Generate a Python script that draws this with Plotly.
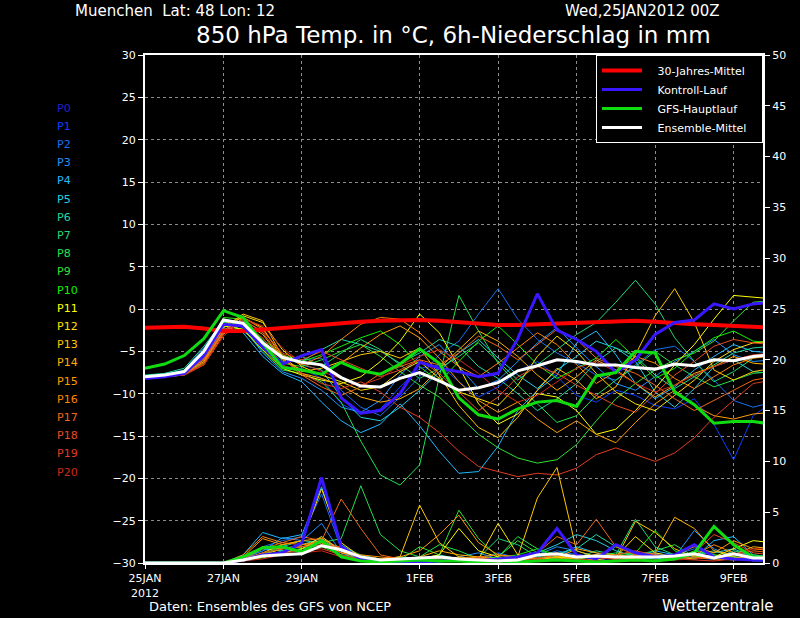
import pandas as pd
import plotly.graph_objects as go

# ---------------- data (12-hourly, 25JAN2012 00Z .. 10FEB 00Z) ----------------
TIMES = pd.date_range("2012-01-25 00:00", periods=33, freq="12h")

CLIMATE = [-2.2, -2.2, -2.1, -2.3, -2.6, -2.6, -2.4, -2.2, -2.0, -1.8, -1.6, -1.5, -1.4, -1.3, -1.3, -1.4,
           -1.6, -1.7, -1.9, -1.9, -1.8, -1.7, -1.6, -1.6, -1.4, -1.4, -1.5, -1.7, -1.8, -1.9, -2.0, -2.1, -2.2]

CONTROL_T = [-8.2, -8.0, -7.6, -5.5, -1.8, -2.0, -4.5, -6.5, -5.5, -4.8, -10.5, -12.3, -12.0, -10.0, -6.3, -7.0,
             -7.4, -8.0, -7.6, -3.5, 1.8, -2.5, -3.6, -5.0, -7.5, -6.0, -3.0, -1.6, -1.3, 0.6, 0.0, 0.6, 0.8]
MAIN_T = [-7.0, -6.5, -5.5, -3.5, -0.2, -1.0, -4.0, -6.9, -7.2, -7.7, -6.3, -7.3, -7.7, -6.5, -4.7, -6.4,
          -10.5, -12.5, -13.0, -11.8, -11.0, -10.8, -11.5, -7.9, -7.5, -5.0, -5.2, -9.8, -11.3, -13.5, -13.3, -13.3, -13.6]
MEAN_T = [-8.0, -7.8, -7.4, -5.0, -1.3, -1.7, -4.0, -5.7, -6.3, -6.6, -8.1, -9.1, -9.2, -8.2, -7.5, -8.5,
          -9.6, -9.3, -8.7, -7.3, -6.7, -6.0, -6.2, -6.6, -6.6, -6.9, -7.1, -6.5, -6.7, -6.0, -6.1, -5.6, -5.4]

CONTROL_P = [0, 0, 0, 0, 0, 0.3, 0.8, 1.0, 2.0, 8.4, 1.6, 0.4, 0.2, 0.1, 0.1, 0.2, 0.3, 0.2, 0.4, 0.6, 1.0,
             3.4, 0.8, 0.4, 1.8, 1.0, 0.6, 0.8, 1.8, 0.6, 0.4, 0.3, 0.3]
MAIN_P = [0, 0, 0, 0, 0, 0.6, 1.5, 1.6, 1.1, 2.2, 0.6, 0.2, 0.1, 0.2, 0.3, 0.2, 0.2, 0.1, 0.2, 0.1, 0.2,
          0.3, 0.2, 0.1, 0.2, 0.3, 0.2, 0.4, 1.0, 3.6, 1.8, 0.6, 0.4]
MEAN_P = [0, 0, 0, 0, 0, 0.3, 0.7, 0.8, 0.9, 1.7, 1.3, 0.6, 0.3, 0.4, 0.5, 0.6, 0.4, 0.3, 0.2, 0.3, 0.8,
          0.9, 0.6, 0.7, 0.6, 0.6, 0.6, 0.7, 0.9, 0.5, 0.9, 0.5, 0.5]

MEMBER_NAMES = ["P%d" % i for i in range(1, 21)]
MEMBER_COLORS = ["#0a40ff", "#1670f0", "#1e90ff", "#20b8ff", "#20d0e0", "#20d8a0", "#20d878", "#20e050",
                 "#30e030", "#10f000", "#ffff00", "#ffe000", "#ffc800", "#ffb000", "#ff9c00", "#ff8400",
                 "#f06818", "#e84c20", "#e03c20", "#d02818"]

MEMBER_T = [
    [-8.2, -8.0, -7.7, -5.8, -1.8, -2.0, -4.6, -6.8, -7.0, -8.2, -11.2, -12.4, -11.8, -9.2, -7.0, -6.6, -8.6, -10.4, -9.2, -7.4, -6.2, -8.0, -10.2, -11.0, -9.6, -10.2, -11.4, -11.8, -10.6, -13.6, -17.8, -12.6, -11.0],
    [-8.0, -7.8, -7.5, -5.0, -1.2, -1.6, -4.2, -6.2, -6.0, -5.8, -9.6, -11.6, -12.6, -10.4, -8.0, -5.4, -3.8, -0.6, 2.4, -1.2, -3.6, -5.2, -6.4, -7.8, -8.4, -6.6, -4.8, -4.4, -6.2, -8.4, -10.8, -11.6, -11.0],
    [-7.9, -7.7, -7.2, -4.6, -1.4, -2.2, -5.2, -7.4, -8.2, -9.6, -11.6, -12.2, -10.8, -7.8, -5.6, -4.2, -6.8, -9.4, -8.4, -6.2, -4.0, -2.2, -4.6, -6.8, -8.8, -9.6, -8.0, -6.2, -5.0, -3.6, -5.4, -6.2, -6.0],
    [-8.1, -7.9, -7.6, -5.8, -2.2, -2.8, -5.6, -7.6, -8.6, -11.0, -13.2, -14.6, -13.6, -11.2, -13.8, -16.8, -19.4, -19.2, -16.2, -12.0, -9.6, -7.8, -4.0, -2.6, -5.4, -8.8, -10.6, -9.2, -7.2, -5.6, -4.2, -5.0, -5.2],
    [-8.0, -7.8, -7.4, -5.4, -1.6, -1.4, -3.8, -5.6, -6.6, -7.2, -10.4, -12.8, -13.2, -11.6, -9.6, -7.4, -5.2, -3.6, -5.8, -7.8, -9.4, -7.2, -5.6, -3.8, -4.6, -6.2, -9.8, -11.6, -9.4, -6.8, -6.0, -7.4, -7.6],
    [-7.8, -7.6, -7.0, -4.4, -1.4, -2.6, -4.4, -5.8, -6.2, -4.8, -3.6, -4.2, -5.0, -6.4, -5.2, -3.6, -4.4, -6.8, -8.2, -10.0, -12.0, -10.6, -8.8, -6.2, -4.6, -5.6, -7.8, -9.4, -8.0, -6.6, -5.2, -4.6, -4.4],
    [-8.2, -8.0, -7.8, -6.2, -2.4, -2.0, -4.0, -6.0, -5.6, -6.8, -5.2, -3.6, -4.8, -6.6, -8.2, -7.0, -5.6, -4.0, -6.2, -8.4, -6.6, -4.8, -3.0, -1.6, 0.8, 3.4, 0.6, -3.4, -6.2, -8.6, -7.4, -5.8, -5.4],
    [-8.0, -7.9, -7.6, -5.6, -2.0, -2.4, -5.0, -7.2, -7.6, -8.6, -11.0, -15.6, -19.6, -20.8, -18.4, -8.0, 1.6, -2.6, -6.4, -9.0, -11.2, -13.4, -12.6, -10.2, -8.4, -6.8, -5.0, -6.6, -8.0, -9.2, -8.4, -7.6, -7.4],
    [-7.9, -7.7, -7.3, -5.0, -1.6, -1.8, -4.4, -6.4, -6.8, -6.0, -5.0, -4.2, -5.6, -7.4, -9.0, -10.4, -12.6, -14.8, -16.4, -17.6, -18.2, -17.8, -16.0, -13.2, -10.6, -8.8, -7.2, -6.0, -5.2, -3.8, -1.4, 0.8, 1.0],
    [-8.1, -7.9, -7.5, -5.2, -1.0, -1.2, -3.6, -5.4, -6.2, -5.4, -4.4, -3.4, -2.6, -4.2, -6.8, -8.6, -6.2, -3.8, -2.0, -4.2, -6.6, -8.2, -7.0, -5.8, -3.6, -5.8, -8.2, -7.0, -5.0, -3.4, -2.6, -3.8, -4.0],
    [-8.0, -7.8, -7.3, -5.6, -2.0, -2.4, -4.8, -7.0, -7.8, -8.4, -8.8, -8.0, -6.2, -3.8, -0.6, -2.8, -6.8, -11.2, -13.6, -12.4, -10.0, -10.4, -12.0, -14.8, -14.2, -12.0, -9.4, -6.6, -4.2, -1.2, 1.6, 1.4, 1.2],
    [-8.2, -8.0, -7.7, -6.4, -2.6, -0.8, -1.6, -4.8, -6.8, -7.8, -8.6, -9.6, -9.2, -7.4, -6.2, -8.2, -9.8, -10.6, -11.4, -9.0, -5.6, -3.2, -5.0, -7.6, -9.8, -11.2, -12.0, -10.2, -8.4, -6.2, -4.8, -4.0, -3.8],
    [-8.0, -7.8, -7.6, -6.0, -2.2, -0.6, -1.4, -5.6, -7.4, -7.0, -6.2, -5.4, -5.0, -5.8, -4.6, -7.8, -11.4, -14.0, -15.2, -12.8, -9.6, -7.0, -8.4, -10.6, -9.2, -5.4, -0.8, 2.4, -1.6, -7.2, -8.4, -7.4, -7.0],
    [-8.1, -7.9, -7.5, -5.4, -1.8, -1.0, -2.2, -5.8, -7.6, -8.2, -9.0, -10.4, -11.0, -10.6, -9.4, -7.0, -4.8, -2.6, -3.8, -5.6, -7.8, -9.6, -8.0, -6.0, -7.2, -8.8, -10.4, -9.0, -7.6, -6.8, -5.6, -6.4, -6.6],
    [-8.0, -7.8, -7.6, -6.2, -2.8, -1.6, -3.0, -6.0, -7.2, -7.8, -6.4, -4.6, -3.0, -2.0, -3.4, -5.8, -8.6, -10.8, -12.2, -11.0, -13.0, -14.6, -13.2, -14.8, -15.8, -13.4, -11.2, -9.6, -11.4, -12.6, -13.0, -12.4, -12.2],
    [-8.2, -8.0, -7.8, -6.6, -3.0, -1.0, -2.4, -5.4, -6.6, -5.6, -3.6, -1.8, -1.0, -1.2, -2.8, -5.0, -6.8, -8.0, -6.4, -4.6, -2.8, -4.2, -6.6, -8.8, -7.4, -5.6, -6.4, -8.2, -9.4, -8.0, -6.6, -5.8, -5.6],
    [-8.0, -7.8, -7.6, -6.0, -2.6, -1.2, -2.8, -5.8, -7.8, -9.2, -10.2, -9.2, -7.6, -6.8, -6.0, -6.6, -5.2, -3.2, -4.4, -6.0, -4.2, -2.4, -3.6, -5.8, -6.8, -7.6, -9.0, -10.6, -12.0, -10.8, -9.6, -8.4, -8.0],
    [-8.1, -7.9, -7.7, -6.4, -2.8, -1.4, -2.6, -5.2, -6.0, -5.0, -6.0, -7.0, -8.0, -7.2, -6.0, -7.6, -9.8, -12.0, -10.4, -8.0, -6.8, -7.6, -9.0, -10.2, -11.4, -12.2, -10.0, -7.8, -6.2, -4.4, -3.6, -4.0, -4.2],
    [-8.0, -7.8, -7.5, -5.8, -2.4, -1.8, -3.4, -6.6, -7.6, -8.8, -9.4, -8.6, -9.8, -11.6, -12.8, -14.6, -16.8, -18.6, -19.2, -19.8, -19.4, -19.6, -18.8, -17.2, -16.4, -17.2, -18.0, -17.0, -15.2, -12.8, -10.8, -8.8, -8.4],
    [-8.2, -8.0, -7.8, -6.6, -3.2, -1.2, -2.0, -4.6, -6.4, -7.4, -8.2, -9.0, -8.2, -6.6, -5.6, -4.8, -6.0, -7.6, -9.6, -11.0, -10.2, -8.6, -7.0, -6.2, -7.4, -8.8, -9.8, -9.0, -7.8, -6.8, -6.0, -5.4, -5.2],
]

MEMBER_P = [
    [0, 0, 0, 0, 0, 0.4, 1.2, 1.8, 1.0, 2.2, 0.8, 0.3, 0.2, 0.1, 0, 0.2, 0.4, 0.6, 0.3, 0.2, 0.5, 0.8, 0.3, 0.4, 0.2, 0.6, 0.9, 0.4, 0.6, 0.3, 1.2, 0.6, 0.5],
    [0, 0, 0, 0, 0, 0.6, 1.6, 2.2, 2.6, 6.8, 1.4, 0.4, 0.2, 0.1, 0.2, 0.3, 0.2, 0.4, 1.0, 0.5, 0.6, 1.2, 0.8, 0.5, 0.4, 0.3, 0.6, 0.8, 1.4, 0.7, 0.5, 0.3, 0.3],
    [0, 0, 0, 0, 0, 0.5, 1.2, 2.5, 2.2, 3.9, 1.0, 0.3, 0.2, 0.2, 0.1, 0.2, 0.6, 1.0, 0.4, 0.3, 0.8, 1.6, 1.2, 0.6, 0.5, 0.8, 1.0, 0.6, 3.2, 1.4, 0.6, 0.2, 0.2],
    [0, 0, 0, 0, 0, 0.8, 3.0, 2.4, 2.8, 7.5, 1.8, 0.6, 0.2, 0.1, 0.3, 0.1, 0.4, 0.2, 0.3, 0.6, 0.4, 0.8, 1.6, 1.0, 0.4, 0.6, 1.2, 0.8, 0.5, 2.2, 2.6, 0.8, 0.6],
    [0, 0, 0, 0, 0, 0.4, 1.4, 1.2, 1.8, 2.4, 1.2, 0.4, 0.3, 0.2, 0.2, 0.4, 0.2, 0.3, 0.5, 0.4, 1.0, 1.8, 2.8, 2.2, 1.2, 0.6, 0.4, 0.6, 0.8, 1.0, 1.4, 0.6, 0.5],
    [0, 0, 0, 0, 0, 0.2, 0.8, 1.6, 2.2, 2.0, 0.8, 0.5, 0.3, 0.6, 0.4, 0.8, 0.4, 0.3, 0.2, 0.4, 0.6, 0.9, 1.4, 2.8, 1.6, 1.0, 0.6, 0.4, 0.8, 1.2, 0.6, 0.4, 0.4],
    [0, 0, 0, 0, 0, 0.2, 0.6, 1.2, 1.4, 1.8, 1.6, 0.8, 0.4, 0.2, 0.3, 0.4, 0.2, 0.5, 2.4, 1.8, 0.6, 0.4, 0.5, 1.2, 0.8, 4.3, 1.6, 0.8, 0.4, 0.6, 0.8, 0.5, 0.4],
    [0, 0, 0, 0, 0, 0.3, 0.8, 1.4, 1.6, 2.0, 2.4, 7.6, 2.8, 1.2, 0.6, 1.8, 1.2, 0.4, 0.6, 2.6, 1.4, 0.5, 0.8, 0.6, 1.0, 0.8, 1.2, 1.8, 0.6, 0.4, 1.2, 0.8, 0.6],
    [0, 0, 0, 0, 0, 0.2, 0.5, 1.0, 1.4, 2.2, 1.2, 0.6, 0.4, 0.3, 1.6, 0.8, 5.2, 2.4, 0.6, 2.2, 1.0, 0.6, 0.4, 0.6, 0.8, 1.0, 0.6, 0.4, 1.2, 0.8, 0.6, 0.4, 0.4],
    [0, 0, 0, 0, 0, 0.3, 0.9, 1.6, 1.2, 1.6, 0.8, 0.4, 0.3, 0.4, 0.2, 0.3, 0.4, 0.3, 0.5, 0.8, 1.4, 0.8, 0.6, 0.4, 1.6, 1.0, 3.2, 1.2, 0.6, 0.8, 0.4, 0.3, 0.3],
    [0, 0, 0, 0, 0, 0.2, 0.6, 1.0, 1.4, 2.6, 1.2, 0.5, 0.3, 0.2, 0.4, 0.8, 3.4, 1.2, 0.6, 0.4, 0.3, 0.6, 0.5, 0.8, 0.6, 0.4, 0.8, 0.6, 0.4, 0.6, 1.4, 2.2, 2.0],
    [0, 0, 0, 0, 0, 0.4, 1.0, 1.8, 2.2, 7.3, 2.0, 0.6, 0.3, 0.2, 0.3, 0.6, 0.5, 0.4, 3.9, 0.8, 0.4, 0.6, 0.4, 0.3, 0.6, 2.6, 1.0, 0.6, 0.8, 0.5, 0.6, 0.4, 0.4],
    [0, 0, 0, 0, 0, 0.3, 0.8, 1.4, 1.6, 2.0, 1.0, 0.6, 0.4, 0.6, 5.7, 2.0, 0.6, 0.4, 0.3, 0.6, 6.4, 9.4, 1.2, 0.6, 0.4, 4.1, 3.0, 1.4, 0.6, 0.4, 0.3, 0.5, 0.5],
    [0, 0, 0, 0, 0, 0.5, 1.6, 1.4, 1.8, 2.2, 1.2, 0.4, 0.3, 0.2, 0.6, 1.2, 0.8, 0.6, 0.4, 0.6, 0.8, 0.5, 1.4, 1.0, 0.8, 0.6, 1.0, 4.5, 3.4, 1.2, 0.8, 1.6, 1.4],
    [0, 0, 0, 0, 0, 0.6, 2.4, 1.8, 2.2, 2.4, 1.4, 0.6, 0.4, 0.6, 1.2, 2.8, 4.7, 2.0, 0.8, 0.6, 0.4, 0.6, 0.8, 0.6, 0.4, 0.8, 0.6, 0.8, 1.6, 1.0, 2.2, 1.4, 1.2],
    [0, 0, 0, 0, 0, 0.8, 2.6, 2.0, 1.8, 2.0, 1.0, 0.8, 0.6, 0.4, 0.3, 0.5, 0.4, 0.6, 0.8, 0.5, 0.3, 0.4, 0.6, 0.8, 0.5, 0.4, 0.6, 0.5, 0.8, 1.8, 1.0, 0.6, 0.6],
    [0, 0, 0, 0, 0, 0.4, 1.4, 2.0, 2.6, 2.2, 6.3, 3.4, 0.8, 0.4, 0.2, 0.3, 0.5, 0.4, 0.3, 0.5, 1.0, 2.6, 1.8, 4.3, 1.6, 0.8, 0.6, 0.4, 0.6, 0.4, 0.8, 1.2, 1.0],
    [0, 0, 0, 0, 0, 0.3, 1.0, 1.4, 1.6, 1.8, 1.6, 0.6, 0.4, 0.3, 0.4, 0.6, 0.3, 0.5, 0.4, 0.6, 0.5, 0.8, 0.6, 0.5, 0.8, 1.2, 0.8, 0.6, 1.0, 2.8, 2.0, 1.0, 0.8],
    [0, 0, 0, 0, 0, 0.2, 0.6, 1.0, 1.2, 1.4, 0.8, 0.4, 0.2, 0.1, 0.2, 0.3, 0.2, 0.1, 0.2, 0.3, 0.2, 0.3, 0.4, 0.2, 0.3, 0.2, 0.3, 0.4, 0.3, 0.2, 0.4, 0.6, 0.6],
    [0, 0, 0, 0, 0, 0.2, 0.4, 0.8, 1.0, 1.2, 0.6, 0.3, 0.2, 0.2, 0.1, 0.2, 0.3, 0.2, 0.3, 0.2, 0.4, 0.3, 0.2, 0.5, 0.4, 0.3, 0.2, 0.3, 0.4, 0.6, 0.8, 1.4, 1.4],
]

LABEL_NAMES = ["P%d" % i for i in range(0, 21)]
LABEL_COLORS = ["#2020cc"] + MEMBER_COLORS

LEGEND_NAMES = ["30-Jahres-Mittel", "Kontroll-Lauf", "GFS-Hauptlauf", "Ensemble-Mittel"]

DATE_TICKS = ["2012-01-25", "2012-01-27", "2012-01-29", "2012-02-01", "2012-02-03",
              "2012-02-05", "2012-02-07", "2012-02-09"]
DATE_LABELS = ["25JAN<br>2012", "27JAN", "29JAN", "1FEB", "3FEB", "5FEB", "7FEB", "9FEB"]
TEMP_TICKS = list(range(-30, 31, 5))
PREC_TICKS = list(range(0, 51, 5))

FONT = "DejaVu Sans"
PAD = "\u00a0\u00a0\u00a0"

# ---------------- figure ----------------
fig = go.Figure()

for name, col, tv, pv in zip(MEMBER_NAMES, MEMBER_COLORS, MEMBER_T, MEMBER_P):
    fig.add_trace(go.Scatter(x=TIMES, y=pv, yaxis="y2", mode="lines",
                             line=dict(color=col, width=1), showlegend=False, hoverinfo="skip"))
    fig.add_trace(go.Scatter(x=TIMES, y=tv, mode="lines",
                             line=dict(color=col, width=1), showlegend=False, hoverinfo="skip"))

fig.add_trace(go.Scatter(x=TIMES, y=CONTROL_P, yaxis="y2", mode="lines",
                         line=dict(color="#3a18ff", width=3), showlegend=False))
fig.add_trace(go.Scatter(x=TIMES, y=MAIN_P, yaxis="y2", mode="lines",
                         line=dict(color="#10dd10", width=3), showlegend=False))
fig.add_trace(go.Scatter(x=TIMES, y=MEAN_P, yaxis="y2", mode="lines",
                         line=dict(color="#ffffff", width=3), showlegend=False))

fig.add_trace(go.Scatter(x=TIMES, y=CLIMATE, mode="lines", name=PAD + LEGEND_NAMES[0] + PAD,
                         line=dict(color="#ff0000", width=4)))
fig.add_trace(go.Scatter(x=TIMES, y=CONTROL_T, mode="lines", name=PAD + LEGEND_NAMES[1] + PAD,
                         line=dict(color="#3a18ff", width=3)))
fig.add_trace(go.Scatter(x=TIMES, y=MAIN_T, mode="lines", name=PAD + LEGEND_NAMES[2] + PAD,
                         line=dict(color="#10dd10", width=3)))
fig.add_trace(go.Scatter(x=TIMES, y=MEAN_T, mode="lines", name=PAD + LEGEND_NAMES[3] + PAD,
                         line=dict(color="#ffffff", width=3)))

annotations = []
for i, (lab, col) in enumerate(zip(LABEL_NAMES, LABEL_COLORS)):
    annotations.append(dict(text=lab, xref="paper", yref="paper", x=(55 - 145) / 618,
                            y=(563 - 108 - i * 18.2) / 508,
                            xanchor="left", yanchor="middle", showarrow=False,
                            font=dict(family=FONT, size=11, color=col)))

annotations += [
    dict(text="Muenchen  Lat: 48 Lon: 12", xref="paper", yref="paper", x=(73 - 145) / 618, y=(563 - 11) / 508,
         xanchor="left", yanchor="middle", showarrow=False, font=dict(family=FONT, size=15, color="white")),
    dict(text="Wed,25JAN2012 00Z", xref="paper", yref="paper", x=(722 - 145) / 618, y=(563 - 11) / 508,
         xanchor="right", yanchor="middle", showarrow=False, font=dict(family=FONT, size=15, color="white")),
    dict(text="850 hPa Temp. in °C, 6h-Niederschlag in mm", xref="paper", yref="paper",
         x=(453 - 145) / 618, y=(563 - 35) / 508, xanchor="center", yanchor="middle", showarrow=False,
         font=dict(family=FONT, size=23, color="white")),
    dict(text="Daten: Ensembles des GFS von NCEP", xref="paper", yref="paper", x=(147 - 145) / 618,
         y=(563 - 606) / 508, xanchor="left", yanchor="middle", showarrow=False,
         font=dict(family=FONT, size=13, color="white")),
    dict(text="Wetterzentrale", xref="paper", yref="paper", x=(776 - 145) / 618,
         y=(563 - 606) / 508, xanchor="right", yanchor="middle", showarrow=False,
         font=dict(family=FONT, size=15, color="white")),
]

fig.update_layout(
    width=800, height=618,
    margin=dict(l=145, r=37, t=55, b=55),
    paper_bgcolor="black", plot_bgcolor="black",
    font=dict(family=FONT, color="white", size=11),
    showlegend=True,
    legend=dict(x=1, y=1, xanchor="right", yanchor="top", bgcolor="black",
                bordercolor="white", borderwidth=1, font=dict(family=FONT, size=11, color="white"),
                itemwidth=40, tracegroupgap=0),
    annotations=annotations,
    xaxis=dict(type="date", range=["2012-01-25 00:00", "2012-02-09 18:00"],
               tickmode="array", tickvals=DATE_TICKS, ticktext=DATE_LABELS,
               showgrid=True, gridcolor="#8c8c8c", griddash="dot", gridwidth=1,
               showline=True, linecolor="white", linewidth=2, mirror=True,
               ticks="outside", ticklen=4, tickcolor="white",
               tickfont=dict(family=FONT, size=11, color="white"), zeroline=False),
    yaxis=dict(range=[-30, 30], tickvals=TEMP_TICKS, showgrid=True, gridcolor="#8c8c8c",
               griddash="dot", gridwidth=1, showline=True, linecolor="white", linewidth=2,
               ticks="outside", ticklen=5, tickcolor="white", zeroline=False,
               tickfont=dict(family=FONT, size=11, color="white")),
    yaxis2=dict(range=[0, 50], tickvals=PREC_TICKS, overlaying="y", side="right", showgrid=False,
                showline=True, linecolor="white", linewidth=2, ticks="outside", ticklen=5,
                tickcolor="white", zeroline=False, tickfont=dict(family=FONT, size=11, color="white")),
)

fig.write_html("out.html", config={"displayModeBar": False},
               post_script="document.body.style.margin='0';document.body.style.background='black';")
